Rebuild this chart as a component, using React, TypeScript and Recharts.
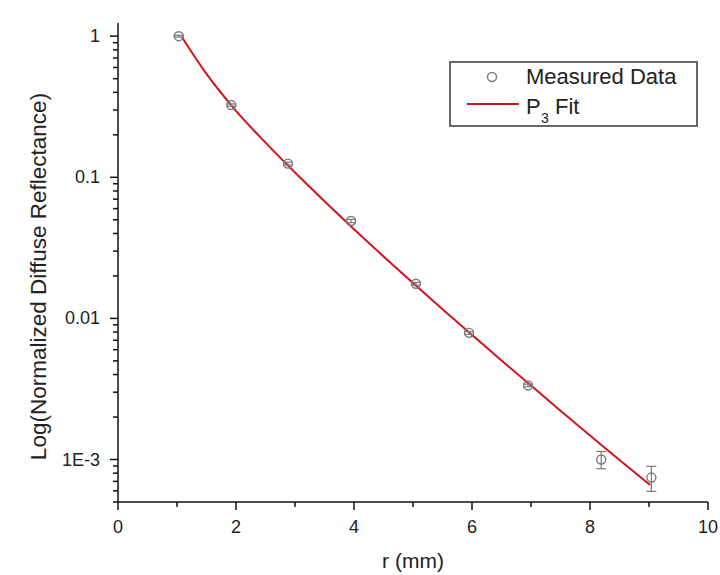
import {
  ComposedChart,
  Line,
  Scatter,
  ErrorBar,
  XAxis,
  YAxis,
  Legend,
  Label,
} from 'recharts';

// measured points (r in mm, normalized reflectance, y error)
const measuredR = [1.03, 1.92, 2.88, 3.95, 5.05, 5.95, 6.95, 8.19, 9.04];
const measuredV = [1.0, 0.325, 0.125, 0.049, 0.0176, 0.0079, 0.00335, 0.001, 0.000745];
const measuredErr = [0.015, 0.006, 0.003, 0.0013, 0.0004, 0.00018, 0.00007, 0.00014, 0.00015];

// P3 fit curve
const fitR = [1.08, 1.5, 2, 2.5, 3, 3.5, 4, 4.5, 5, 5.5, 6, 6.5, 7, 7.5, 8, 8.5, 9.02];
const fitV = [
  0.99, 0.54, 0.296, 0.176, 0.108, 0.0676, 0.0429, 0.0275, 0.0178, 0.0116, 0.00764,
  0.00504, 0.00334, 0.00222, 0.00148, 0.000993, 0.00066,
];

const xTicks = [0, 1, 2, 3, 4, 5, 6, 7, 8, 9, 10];
const xMajorTicks = [0, 2, 4, 6, 8, 10];
const xTickLabels = ['0', '2', '4', '6', '8', '10'];

const yMajorTicks = [0.001, 0.01, 0.1, 1];
const yTickLabels = ['1E-3', '0.01', '0.1', '1'];
const yMinorSteps = [2, 3, 4, 5, 6, 7, 8, 9];

const measured = measuredR.map((r, i) => ({ r, v: measuredV[i], err: measuredErr[i] }));
const fit = fitR.map((r, i) => ({ r, v: fitV[i] }));

const yTicks = [0.0005, 0.0006, 0.0007, 0.0008, 0.0009];
[0.001, 0.01, 0.1].forEach((d) => {
  yTicks.push(d);
  yMinorSteps.forEach((m) => yTicks.push(d * m));
});
yTicks.push(1);

const FONT = '"Liberation Sans", Arial, sans-serif';
const AXIS = '#111';
const TEXT = '#222';
const RED = '#d0141c';
const GREY = '#7a7a7a';

const YTick = (props: any) => {
  const { x, y, payload } = props;
  const i = yMajorTicks.findIndex((t) => Math.abs(t - payload.value) / t < 1e-6);
  const major = i >= 0;
  return (
    <g>
      <line x1={x} x2={x - (major ? 8 : 5)} y1={y} y2={y} stroke={AXIS} strokeWidth={1.5} />
      {major && (
        <text
          x={x - 18}
          y={y}
          textAnchor="end"
          dominantBaseline="central"
          fontFamily={FONT}
          fontSize={18}
          fill={TEXT}
        >
          {yTickLabels[i]}
        </text>
      )}
    </g>
  );
};

const XTick = (props: any) => {
  const { x, y, payload } = props;
  const i = xMajorTicks.indexOf(payload.value);
  const major = i >= 0;
  return (
    <g>
      <line x1={x} x2={x} y1={y} y2={y + (major ? 8 : 5)} stroke={AXIS} strokeWidth={1.5} />
      {major && (
        <text x={x} y={y + 31} textAnchor="middle" fontFamily={FONT} fontSize={18} fill={TEXT}>
          {xTickLabels[i]}
        </text>
      )}
    </g>
  );
};

const Circle = (props: any) => (
  <circle cx={props.cx} cy={props.cy} r={4.5} fill="none" stroke={GREY} strokeWidth={1.4} />
);

const LegendBox = () => (
  <div
    style={{
      width: 249,
      height: 66,
      boxSizing: 'border-box',
      border: '2px solid #666',
      background: '#fff',
    }}
  >
    <svg width={245} height={62} style={{ display: 'block' }}>
      <circle cx={41} cy={14} r={4.5} fill="none" stroke={GREY} strokeWidth={1.4} />
      <text x={75} y={21} fontFamily={FONT} fontSize={22} fill={TEXT}>
        Measured Data
      </text>
      <line x1={16} x2={68} y1={41} y2={41} stroke={RED} strokeWidth={2} />
      <text x={75} y={51} fontFamily={FONT} fontSize={22} fill={TEXT}>
        P
      </text>
      <text x={90} y={60} fontFamily={FONT} fontSize={14} fill={TEXT}>
        3
      </text>
      <text x={104} y={51} fontFamily={FONT} fontSize={22} fill={TEXT}>
        Fit
      </text>
    </svg>
  </div>
);

export default function App() {
  return (
    <div style={{ width: 720, height: 575, background: '#fff' }}>
      <style>{'body{margin:0}'}</style>
      <ComposedChart
        width={720}
        height={575}
        margin={{ top: 23, right: 12, left: 58, bottom: 33 }}
      >
        <XAxis
          dataKey="r"
          type="number"
          domain={[0, 10]}
          ticks={xTicks}
          interval={0}
          tick={<XTick />}
          tickLine={false}
          tickSize={0}
          tickMargin={0}
          height={40}
          axisLine={{ stroke: AXIS, strokeWidth: 1.5 }}
          allowDataOverflow
        >
          <Label
            content={({ viewBox }: any) => (
              <text
                x={viewBox.x + viewBox.width / 2}
                y={viewBox.y + 66}
                textAnchor="middle"
                fontFamily={FONT}
                fontSize={21}
                fill={TEXT}
              >
                r (mm)
              </text>
            )}
          />
        </XAxis>
        <YAxis
          dataKey="v"
          type="number"
          scale="log"
          domain={[0.0005, 1.24]}
          ticks={yTicks}
          interval={0}
          tick={<YTick />}
          tickLine={false}
          tickSize={0}
          tickMargin={0}
          width={60}
          axisLine={{ stroke: AXIS, strokeWidth: 1.5 }}
          allowDataOverflow
        >
          <Label
            content={({ viewBox }: any) => {
              const cx = viewBox.x - 20;
              const cy = viewBox.y + viewBox.height / 2 + 14;
              return (
                <text
                  x={cx}
                  y={cy}
                  transform={`rotate(-90 ${cx} ${cy})`}
                  textAnchor="middle"
                  dominantBaseline="central"
                  fontFamily={FONT}
                  fontSize={22.5}
                  fill={TEXT}
                >
                  Log(Normalized Diffuse Reflectance)
                </text>
              );
            }}
          />
        </YAxis>
        <Line
          data={fit}
          dataKey="v"
          type="monotone"
          stroke={RED}
          strokeWidth={2}
          dot={false}
          activeDot={false}
          isAnimationActive={false}
          legendType="none"
        />
        <Scatter
          data={measured}
          dataKey="v"
          shape={<Circle />}
          isAnimationActive={false}
          legendType="none"
        >
          <ErrorBar dataKey="err" direction="y" width={5} stroke={GREY} strokeWidth={1.2} />
        </Scatter>
        <Legend
          layout="vertical"
          align="center"
          verticalAlign="middle"
          content={<LegendBox />}
          wrapperStyle={{ left: 449, top: 61, width: 249, height: 66 }}
        />
      </ComposedChart>
    </div>
  );
}
